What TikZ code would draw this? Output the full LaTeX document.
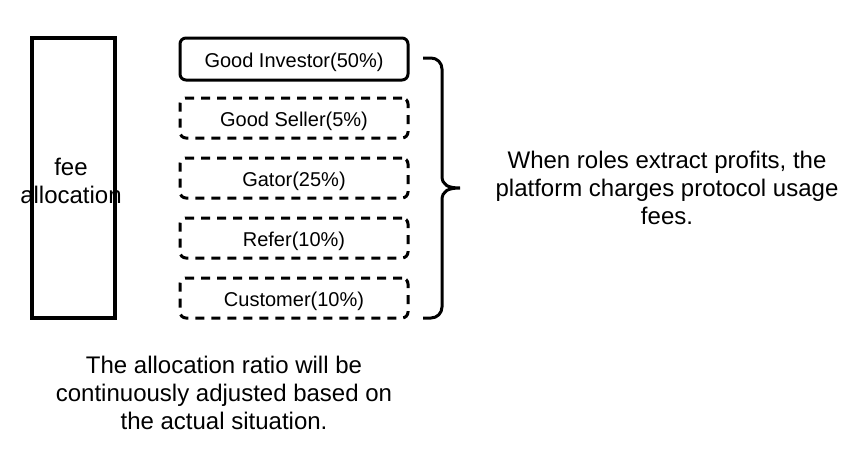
\documentclass[tikz,border=0pt]{standalone}
\usepackage{fontspec}
\setmainfont{Liberation Sans}

\begin{document}
\begin{tikzpicture}[x=1pt,y=-1pt,
  bigtext/.style={font=\fontsize{24}{28}\selectfont, align=center, inner sep=0pt},
  rolebox/.style={draw, line width=3pt, rounded corners=6pt, minimum width=228pt,
    minimum height=40pt, inner sep=0pt, text height=16pt, text depth=0pt,
    font=\fontsize{20}{23}\selectfont},
  dashbox/.style={rolebox, dash pattern=on 9pt off 7pt}]

% Fix the size of the page
\useasboundingbox (0,0) rectangle (866,448);

% Draw the fee allocation box on the left
\node [draw, line width=4pt, minimum width=83pt, minimum height=280pt, inner sep=0pt] (fee) at (73.5,178) {};
\node [bigtext] (feetext) at (71,181) {fee\\allocation};

% Draw the role boxes
\node [rolebox, minimum height=42pt] (investor) at (294,59) {Good Investor(50\%)};
\node [dashbox] (seller) at (294,118) {Good Seller(5\%)};
\node [dashbox] (gator) at (294,178) {Gator(25\%)};
\node [dashbox] (refer) at (294,238) {Refer(10\%)};
\node [dashbox] (customer) at (294,298) {Customer(10\%)};

% Draw the curly bracket
\coordinate (bracetop) at (423,58);
\coordinate (bracetip) at (460,188);
\coordinate (bracebot) at (423,318);
\draw [line width=3pt] (bracetop) -- (431,58) to[out=0,in=90] (442,69) -- (442,176)
  .. controls (442,185) and (448,188) .. (bracetip)
  .. controls (448,188) and (442,191) .. (442,200) -- (442,307)
  to[out=-90,in=0] (431,318) -- (bracebot);

% Texts
\node [bigtext] (fees) at (667,188) {When roles extract profits, the\\platform charges protocol usage\\fees.};
\node [bigtext] (ratio) at (224,393) {The allocation ratio will be\\continuously adjusted based on\\the actual situation.};

\end{tikzpicture}
\end{document}
